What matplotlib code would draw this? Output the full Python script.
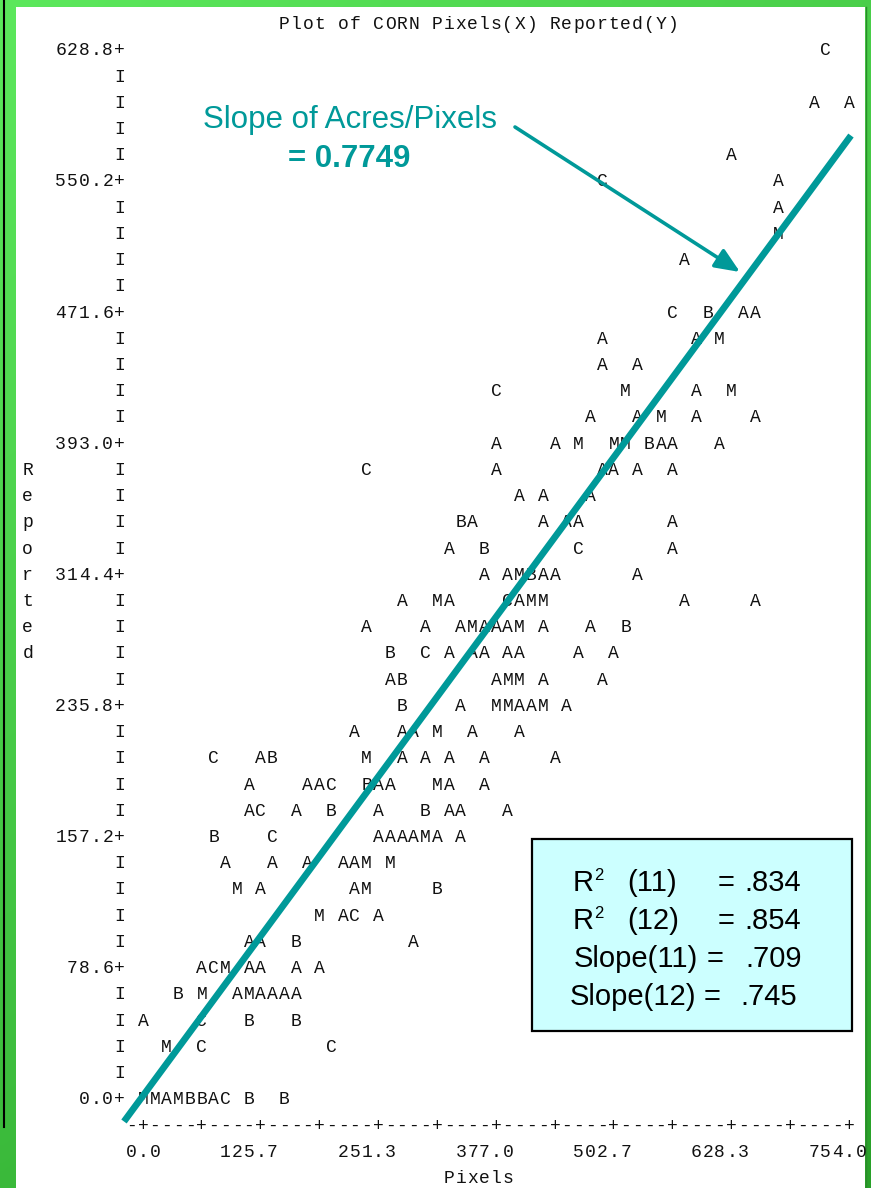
import matplotlib
matplotlib.use("Agg")
import matplotlib.pyplot as plt
import matplotlib.transforms as mtransforms
from matplotlib.patches import Rectangle
import numpy as np

# ------------------------------------------------------------------
# Data (SAS line-printer plot: symbol + character column, per row)
# ------------------------------------------------------------------
title = "Plot of CORN Pixels(X) Reported(Y)"
x_label = "Pixels"
y_label = "Reported"
x_tick_labels = ["0.0", "125.7", "251.3", "377.0", "502.7", "628.3", "754.0"]
y_tick_labels = ["0.0", "78.6", "157.2", "235.8", "314.4", "393.0",
                 "471.6", "550.2", "628.8"]
X_MAX, Y_MAX = 754.0, 628.8
N_COLS, N_ROWS = 60, 40

plot_rows = {
    0: "M0 M1 A2 M3 B4 B5 A6 C7 B9 B12",
    2: "M2 C5 C16",
    3: "A0 C5 B9 B13",
    4: "B3 M5 A8 M9 A10 A11 A12 A13",
    5: "A5 C6 M7 A9 A10 A13 A15",
    6: "A9 A10 B13 A23",
    7: "M15 A17 C18 A20",
    8: "M8 A10 A18 M19 B25",
    9: "A7 A11 A14 A17 A18 M19 M21",
    10: "B6 C11 A20 A21 A22 A23 M24 A25 A27",
    11: "A9 C10 A13 B16 A20 B24 A26 A27 A31",
    12: "A9 A14 A15 C16 B19 A20 A21 M25 A26 A29",
    13: "C6 A10 B11 M19 A22 A24 A26 A29 A35",
    14: "A18 A22 A23 M25 A28 A32",
    15: "B22 A27 M30 M31 A32 A33 M34 A36",
    16: "A21 B22 A30 M31 M32 A34 A39",
    17: "B21 C24 A26 A28 A29 A31 A32 A37 A40",
    18: "A19 A24 A27 M28 A29 A30 A31 M32 A34 A38 B41",
    19: "A22 M25 A26 C31 A32 M33 M34 A46 A52",
    20: "A29 A31 M32 B33 A34 A35 A42",
    21: "A26 B29 C37 A45",
    22: "B27 A28 A34 A36 A37 A45",
    23: "A32 A34 A38",
    24: "C19 A30 A39 A40 A42 A45",
    25: "A30 A35 M37 M40 M41 B43 A44 A45 A49",
    26: "A38 A42 M44 A47 A52",
    27: "C30 M41 A47 M50",
    28: "A39 A42",
    29: "A39 A47 M49",
    30: "C45 B48 A51 A52",
    32: "A46",
    33: "M54",
    34: "A54",
    35: "C39 A54",
    36: "A50",
    38: "A57 A60",
    40: "C58",
}

# hand-drawn fit line (Pixels, Reported) end points
fit_x = [-20.3, 755.9]
fit_y = [-13.9, 577.1]

slope_text = "Slope of Acres/Pixels"
slope_value = "0.7749"
stats_names = ["R", "R", "Slope(11)", "Slope(12)"]
stats_years = ["(11)", "(12)", "", ""]
stats_values = [".834", ".854", ".709", ".745"]

# ------------------------------------------------------------------
X_STEP = X_MAX / N_COLS
Y_STEP = Y_MAX / N_ROWS

pix_x, rep_y, sym = [], [], []
for row, spec in plot_rows.items():
    for tok in spec.split():
        sym.append(tok[0])
        pix_x.append(int(tok[1:]) * X_STEP)
        rep_y.append(row * Y_STEP)

W, H, DPI = 871, 1188, 100
TEAL = "#009999"
MONO = "Liberation Mono"
SANS = "Liberation Sans"
INK = "#111111"

# character grid placement on the page (pixels)
X0_PX, Y0_PX = 143.0, 1098.3
CELL_W, CELL_H = 11.77, 26.225

fig = plt.figure(figsize=(W / DPI, H / DPI), dpi=DPI)
px = mtransforms.Affine2D().scale(1.0 / W, -1.0 / H).translate(0, 1) + fig.transFigure

# ---- background: green gradient frame + white page ----
bg = fig.add_axes([0, 0, 1, 1], zorder=0)
bg.set_axis_off()
yy, xx = np.mgrid[0:H:6, 0:W:6]
t = 0.35 * xx / W + 0.65 * yy / H
c0 = np.array([92, 232, 92]) / 255.0
c1 = np.array([40, 160, 40]) / 255.0
img = c0 + (c1 - c0) * t[..., None]
bg.imshow(img, extent=[0, W, H, 0], aspect="auto", interpolation="bilinear")
bg.set_xlim(0, W)
bg.set_ylim(H, 0)
bg.add_patch(Rectangle((16, 7), 865 - 16, H - 7, facecolor="white", edgecolor="none"))
bg.plot([865.5, 865.5], [7, H], color="#2a8a2a", lw=1.0)
bg.plot([4, 4], [0, 1127], color="black", lw=1.5)

# ---- plot axes (character grid mapped to data scale) ----
ax = fig.add_axes([0, 0, 1, 1], zorder=1)
ax.set_axis_off()
ax.patch.set_visible(False)
ax.set_xlim((0 - X0_PX) / CELL_W * X_STEP, (W - X0_PX) / CELL_W * X_STEP)
ax.set_ylim((Y0_PX - H) / CELL_H * Y_STEP, Y0_PX / CELL_H * Y_STEP)

tl = ax.transData + mtransforms.Affine2D().translate(0, -6)


def put(col, row, ch):
    ax.text(col * X_STEP, row * Y_STEP, ch, transform=tl, ha="center",
            va="baseline", fontsize=13, family=MONO, color=INK)


def put_str(col, row, s):
    for i, ch in enumerate(s):
        if ch != " ":
            put(col + i, row, ch)


# data symbols
for x, y, s in zip(pix_x, rep_y, sym):
    ax.text(x, y, s, transform=tl, ha="center", va="baseline",
            fontsize=13, family=MONO, color=INK)

# vertical axis
for r in range(N_ROWS + 1):
    if r % 5 == 0:
        lab = y_tick_labels[r // 5] + "+"
        put_str(-2 - len(lab) + 1, r, lab)
    else:
        put(-2, r, "I")

# horizontal axis
put_str(-1, -1, "-" + "+----" * 12 + "+")
for i, lab in enumerate(x_tick_labels):
    put_str(i * 10 - lab.index("."), -2, lab)
put_str(26, -3, x_label)
put_str(12, 41, title)
for i, ch in enumerate(y_label):
    put(-9.8, 24 - i, ch)

# fit line
ax.plot(fit_x, fit_y, color=TEAL, lw=4.8, solid_capstyle="butt", zorder=5)

# arrow + slope annotation
ax.annotate("", xy=(740, 272), xytext=(515, 127), xycoords=px, textcoords=px,
            arrowprops=dict(arrowstyle="-|>,head_length=0.75,head_width=0.32",
                            color=TEAL, lw=2.6, shrinkA=0, shrinkB=0,
                            mutation_scale=20), zorder=5)
ax.text(350, 128, slope_text, transform=px, ha="center", va="baseline",
        fontsize=22.5, family=SANS, color=TEAL)
ax.text(349, 166.7, "= " + slope_value, transform=px, ha="center", va="baseline",
        fontsize=22.5, family=SANS, color=TEAL, fontweight="bold")

# stats box
ax.add_patch(Rectangle((531.7, 839), 320.3, 192, transform=px, facecolor="#CCFFFF",
                       edgecolor="black", lw=1.6, zorder=6))
FS = 21
baselines = [891, 929, 967, 1005]
name_left = [573, 573, 574, 570]
eq_center = [726.5, 726.5, 715.5, 712.5]
val_center = [772.5, 772.5, 773.5, 769]
for i in range(4):
    b = baselines[i]
    ax.text(name_left[i], b, stats_names[i], transform=px, ha="left",
            va="baseline", fontsize=FS, family=SANS, color="black", zorder=7)
    if stats_years[i]:
        ax.text(594, b - 11, "2", transform=px, ha="left", va="baseline",
                fontsize=12, family=SANS, color="black", zorder=7)
        ax.text(627.5, b, stats_years[i], transform=px, ha="left", va="baseline",
                fontsize=FS, family=SANS, color="black", zorder=7)
    ax.text(eq_center[i], b, "=", transform=px, ha="center", va="baseline",
            fontsize=FS, family=SANS, color="black", zorder=7)
    ax.text(val_center[i], b, stats_values[i], transform=px, ha="center",
            va="baseline", fontsize=FS, family=SANS, color="black", zorder=7)

fig.savefig("out.png", dpi=DPI)
